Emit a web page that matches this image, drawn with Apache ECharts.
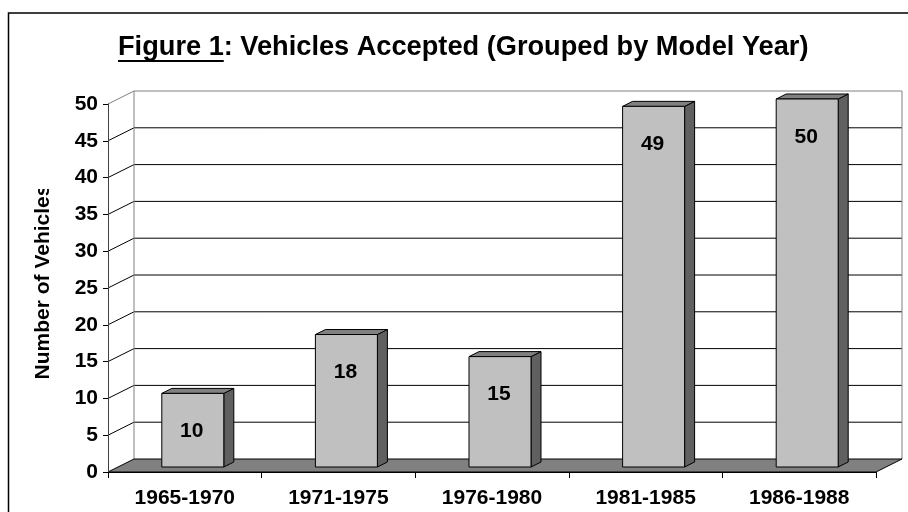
<!DOCTYPE html>
<html><head><meta charset="utf-8">
<script src="https://cdn.jsdelivr.net/npm/echarts@6/dist/echarts.min.js"></script>
<style>html,body{margin:0;padding:0;background:#fff}#c{width:908px;height:512px}</style>
</head><body><div id="c"></div>
<script>
const categories = ['1965-1970', '1971-1975', '1976-1980', '1981-1985', '1986-1988'];
const vehicles = [10, 18, 15, 49, 50];
const yTicks = [0, 5, 10, 15, 20, 25, 30, 35, 40, 45, 50];
const titleMain = 'Figure 1';
const titleRest = ': Vehicles Accepted (Grouped by Model Year)';
const yName = 'Number of Vehicles';

const FONT = '"Liberation Sans", Arial, sans-serif';
const TITLE_SIZE = 27.2;
const WALL_DX = 26, WALL_DY = -13;
const BAR_OFF_X = -23, BAR_W = 62, BAR_SHIFT_Y = -5, BAR_DX = 10, BAR_DY = -5;

const mc = document.createElement('canvas').getContext('2d');
mc.font = 'bold ' + TITLE_SIZE + 'px ' + FONT;
const mainW = mc.measureText(titleMain).width;
const TITLE_X = 118;

const chart = echarts.init(document.getElementById('c'), null, {renderer: 'canvas'});

function renderWalls(params, api) {
  const cs = params.coordSys;
  const x0 = cs.x, x1 = cs.x + cs.width;
  const yb = api.coord([0, 0])[1];
  const yt = api.coord([0, yTicks[yTicks.length - 1]])[1];
  const ch = [];
  ch.push({type: 'polygon', shape: {points: [[x0 + WALL_DX, yt + WALL_DY], [x1 + WALL_DX, yt + WALL_DY], [x1 + WALL_DX, yb + WALL_DY], [x0 + WALL_DX, yb + WALL_DY]]}, style: {fill: '#fff'}});
  yTicks.forEach(function (t, i) {
    if (i === 0 || i === yTicks.length - 1) return;
    const y = api.coord([0, t])[1];
    ch.push({type: 'polyline', shape: {points: [[x0, y], [x0 + WALL_DX, y + WALL_DY], [x1 + WALL_DX, y + WALL_DY]]}, style: {stroke: '#000', lineWidth: 1, fill: null}});
  });
  ch.push({type: 'polyline', shape: {points: [[x0, yt], [x0 + WALL_DX, yt + WALL_DY], [x1 + WALL_DX, yt + WALL_DY], [x1 + WALL_DX, yb + WALL_DY]]}, style: {stroke: '#808080', lineWidth: 1, fill: null}});
  ch.push({type: 'line', shape: {x1: x0 + WALL_DX, y1: yt + WALL_DY, x2: x0 + WALL_DX, y2: yb + WALL_DY}, style: {stroke: '#808080', lineWidth: 1}});
  ch.push({type: 'polygon', shape: {points: [[x0, yb], [x0 + WALL_DX, yb + WALL_DY], [x1 + WALL_DX, yb + WALL_DY], [x1, yb]]}, style: {fill: '#808080', stroke: '#000', lineWidth: 1}});
  return {type: 'group', children: ch};
}

function renderBar(params, api) {
  const idx = api.value(0), v = api.value(1);
  const c = api.coord([idx, v]);
  const b = api.coord([idx, 0]);
  const l = c[0] + BAR_OFF_X, r = l + BAR_W;
  const top = c[1] + BAR_SHIFT_Y, bot = b[1] + BAR_SHIFT_Y;
  return {type: 'group', children: [
    {type: 'polygon', shape: {points: [[r, bot], [r + BAR_DX, bot + BAR_DY], [r + BAR_DX, top + BAR_DY], [r, top]]}, style: {fill: '#606060', stroke: '#000', lineWidth: 1}},
    {type: 'polygon', shape: {points: [[l, top], [l + BAR_DX, top + BAR_DY], [r + BAR_DX, top + BAR_DY], [r, top]]}, style: {fill: '#808080', stroke: '#000', lineWidth: 1}},
    {type: 'rect', shape: {x: l, y: top, width: BAR_W, height: bot - top}, style: {fill: '#c0c0c0', stroke: '#000', lineWidth: 1}},
    {type: 'text', x: (l + r) / 2 - 1, y: top + 38, style: {text: String(v), font: 'bold 21px ' + FONT, fill: '#000', align: 'center', verticalAlign: 'middle'}}
  ]};
}

const option = {
  backgroundColor: '#fff',
  animation: false,
  grid: {left: 108, right: 32, top: 104, bottom: 40},
  xAxis: {
    type: 'category', data: categories, z: 5,
    axisLine: {show: true, lineStyle: {color: '#000', width: 1}},
    axisTick: {show: true, length: 6, lineStyle: {color: '#000'}},
    axisLabel: {color: '#000', fontFamily: FONT, fontWeight: 'bold', fontSize: 21, margin: 16},
    splitLine: {show: false}
  },
  yAxis: {
    type: 'value', min: 0, max: 50, interval: 5, z: 5,
    axisLine: {show: true, lineStyle: {color: '#404040', width: 1}},
    axisTick: {show: true, length: 5, lineStyle: {color: '#000'}},
    axisLabel: {color: '#000', fontFamily: FONT, fontWeight: 'bold', fontSize: 21, margin: 10},
    splitLine: {show: false}
  },
  series: [
    {type: 'custom', z: 1, clip: false, silent: true, renderItem: renderWalls, data: [[0, 0]], encode: {x: 0, y: 1}},
    {type: 'custom', z: 2, clip: false, renderItem: renderBar, data: vehicles.map(function (v, i) { return [i, v]; }), encode: {x: 0, y: 1}}
  ],
  graphic: [
    {type: 'rect', shape: {x: 8.5, y: 13, width: 1000, height: 1000}, style: {fill: null, stroke: '#000', lineWidth: 1.5}, z: 10},
    {type: 'text', x: TITLE_X, y: 48, style: {text: titleMain + titleRest, font: 'bold ' + TITLE_SIZE + 'px ' + FONT, fill: '#000', align: 'left', verticalAlign: 'middle'}, z: 10},
    {type: 'rect', shape: {x: TITLE_X, y: 60, width: mainW, height: 2}, style: {fill: '#000'}, z: 10},
    {type: 'text', x: 43, y: 282, rotation: Math.PI / 2, style: {text: yName, font: 'bold 21px ' + FONT, fill: '#000', align: 'center', verticalAlign: 'middle'}, z: 10},
    {type: 'rect', shape: {x: 28, y: 160, width: 30, height: 29}, style: {fill: '#fff'}, z: 11}
  ]
};
chart.setOption(option);
</script>
</body></html>
